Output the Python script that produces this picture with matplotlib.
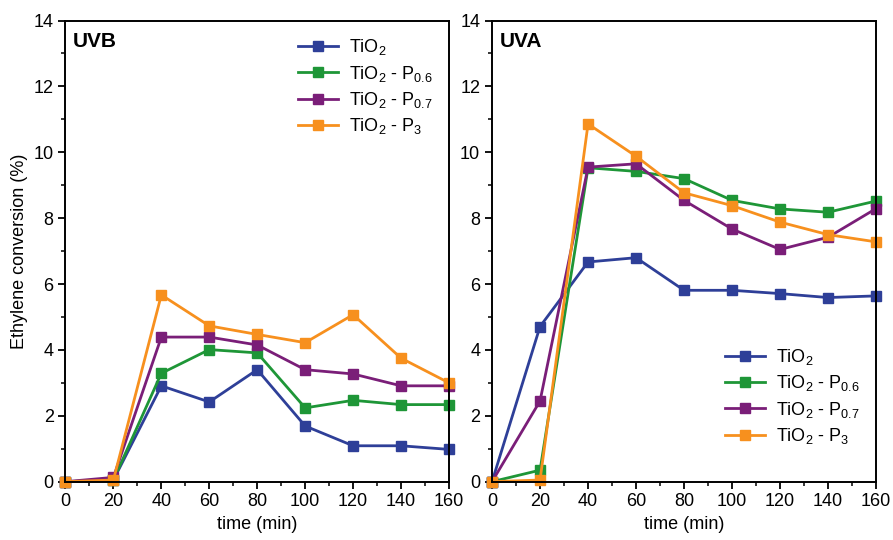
import numpy as np
import matplotlib
matplotlib.use("Agg")
import matplotlib.pyplot as plt
from matplotlib.ticker import MultipleLocator

plt.rcParams['font.family'] = ['Liberation Sans', 'DejaVu Sans']
plt.rcParams['mathtext.default'] = 'regular'

# data
time = [0, 20, 40, 60, 80, 100, 120, 140, 160]

uvb_tio2 = [0, 0.05, 2.91, 2.42, 3.40, 1.69, 1.09, 1.09, 0.98]
uvb_p06 = [0, 0.05, 3.29, 4.01, 3.91, 2.24, 2.47, 2.34, 2.34]
uvb_p07 = [0, 0.13, 4.39, 4.39, 4.15, 3.40, 3.27, 2.91, 2.91]
uvb_p3 = [0, 0.05, 5.67, 4.73, 4.47, 4.22, 5.07, 3.75, 3.00]

uva_tio2 = [0, 4.71, 6.67, 6.80, 5.81, 5.81, 5.71, 5.59, 5.64]
uva_p06 = [0, 0.35, 9.53, 9.42, 9.20, 8.54, 8.28, 8.18, 8.52]
uva_p07 = [0, 2.45, 9.55, 9.65, 8.54, 7.67, 7.05, 7.42, 8.29]
uva_p3 = [0, 0.05, 10.86, 9.88, 8.77, 8.38, 7.88, 7.50, 7.28]

labels = ["TiO$_2$", "TiO$_2$ - P$_{0.6}$", "TiO$_2$ - P$_{0.7}$", "TiO$_2$ - P$_3$"]
colors = ["#2E3F98", "#1E9637", "#7A1E78", "#F7901E"]


def style_axis(ax, title):
    ax.set_xlim(0, 160)
    ax.set_ylim(0, 14)
    ax.xaxis.set_major_locator(MultipleLocator(20))
    ax.xaxis.set_minor_locator(MultipleLocator(10))
    ax.yaxis.set_major_locator(MultipleLocator(2))
    ax.yaxis.set_minor_locator(MultipleLocator(1))
    ax.tick_params(which="major", direction="out", length=5, width=1.3, labelsize=13)
    ax.tick_params(which="minor", direction="out", length=3, width=1.1)
    for sp in ax.spines.values():
        sp.set_linewidth(1.4)
    ax.set_xlabel("time (min)", fontsize=13)
    ax.text(0.02, 0.975, title, transform=ax.transAxes, fontsize=15,
            fontweight="bold", va="top", ha="left")


fig = plt.figure(figsize=(8.93, 5.40), dpi=100)
ax1 = fig.add_axes([0.0733, 0.108, 0.4295, 0.854])
ax2 = fig.add_axes([0.551, 0.108, 0.430, 0.854])

for series, lab, col in zip([uvb_tio2, uvb_p06, uvb_p07, uvb_p3], labels, colors):
    ax1.plot(time, series, color=col, marker="s", markersize=6.5, linewidth=2,
             label=lab, clip_on=False)
for series, lab, col in zip([uva_tio2, uva_p06, uva_p07, uva_p3], labels, colors):
    ax2.plot(time, series, color=col, marker="s", markersize=6.5, linewidth=2,
             label=lab, clip_on=False)

style_axis(ax1, "UVB")
style_axis(ax2, "UVA")
ax1.set_ylabel("Ethylene conversion (%)", fontsize=13)

ax1.legend(loc="upper right", frameon=False, fontsize=13, handlelength=2.2,
           handletextpad=0.6, labelspacing=0.35, bbox_to_anchor=(1.0, 0.999))
ax2.legend(loc="lower right", frameon=False, fontsize=13, handlelength=2.2,
           handletextpad=0.6, labelspacing=0.35, bbox_to_anchor=(1.0, 0.042))

fig.savefig("out.png", dpi=100)
